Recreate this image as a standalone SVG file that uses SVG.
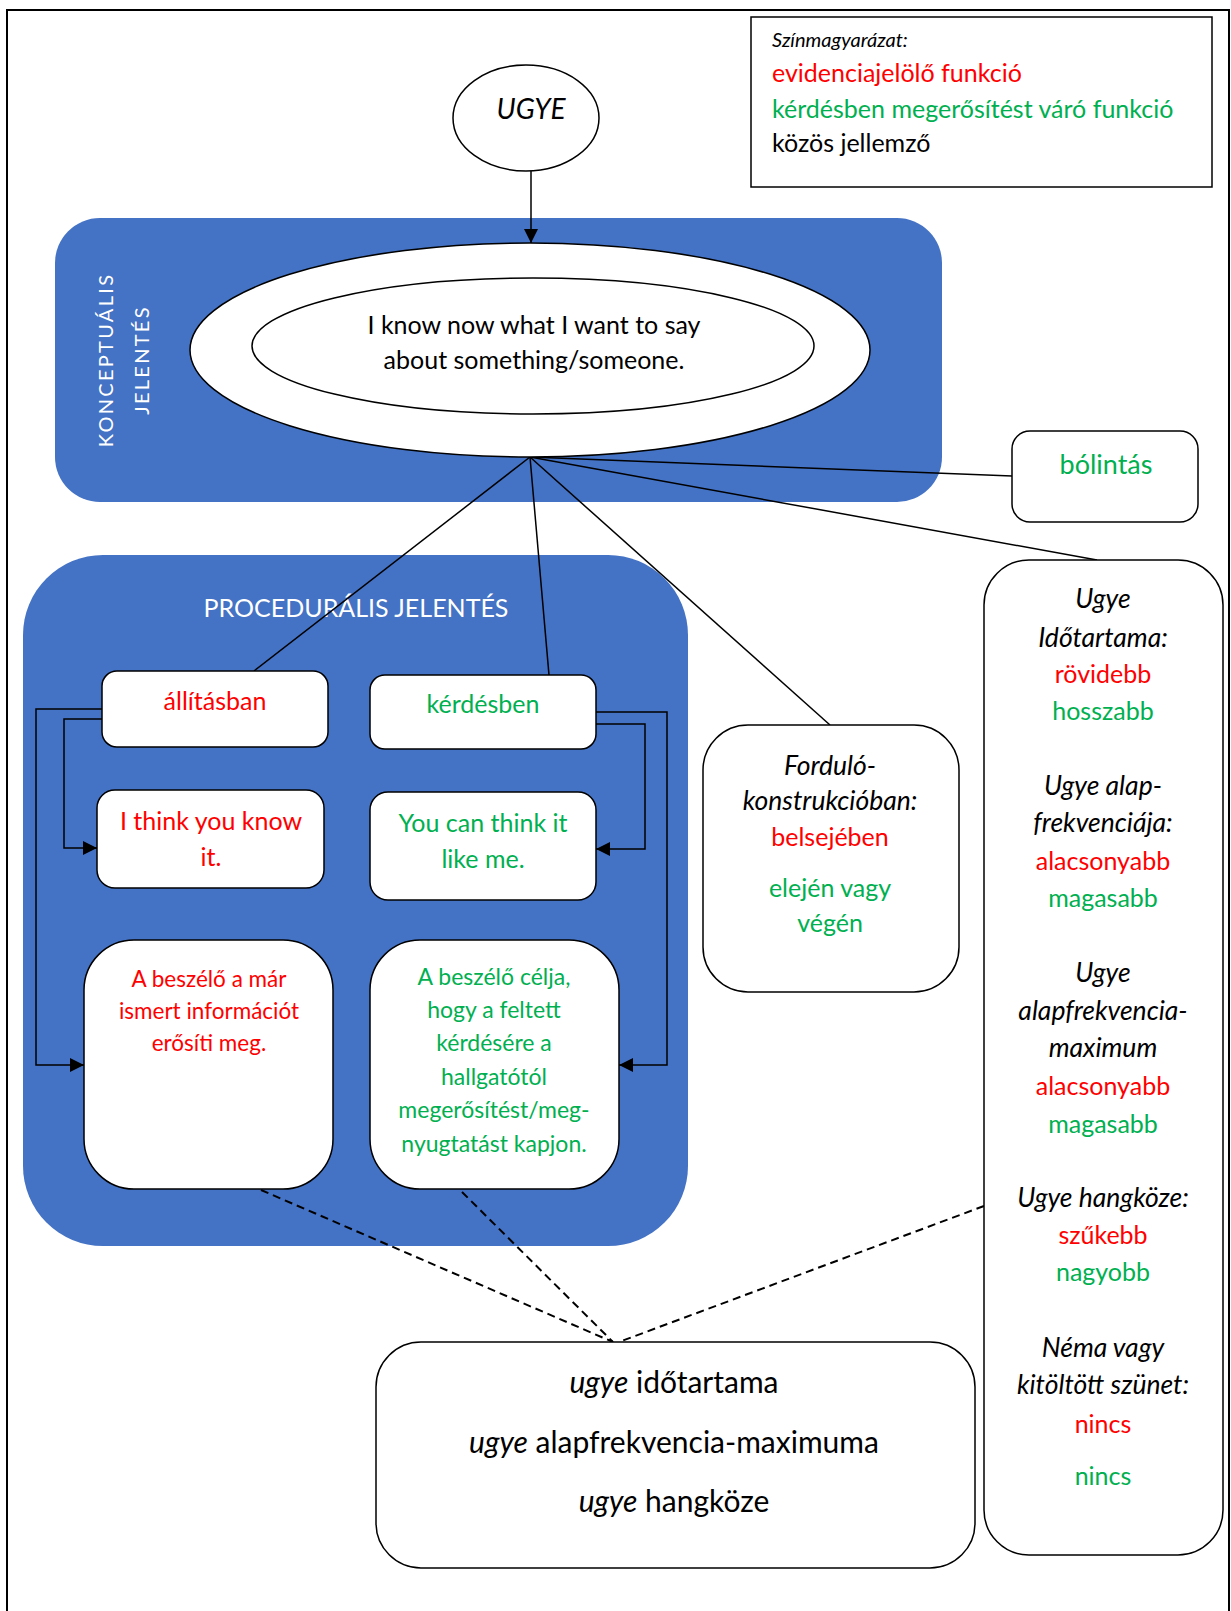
<svg xmlns="http://www.w3.org/2000/svg" width="1231" height="1611" viewBox="0 0 1231 1611">
<defs>
<marker id="arr" markerUnits="userSpaceOnUse" markerWidth="14" markerHeight="14" refX="14" refY="7" orient="auto"><path d="M0,0 L14,7 L0,14 z" fill="#000"/></marker>
<style>
text{font-family:Lato,"Liberation Sans",sans-serif;}
.box{fill:#fff;stroke:#000;stroke-width:1.5;}
.blue{fill:#4472C4;}
.c{text-anchor:middle;}
.r{fill:#FF0000;}
.g{fill:#00B050;}
.k{fill:#000;}
.i{font-style:italic;}
.w{fill:#fff;}
.ln{stroke:#000;stroke-width:1.5;fill:none;}
.dash{stroke:#000;stroke-width:2;fill:none;stroke-dasharray:8 5;}
.f1 text{font-size:25px;}
.f1 text.i{font-size:26.5px;}
</style>
</defs>
<rect x="7" y="10" width="1222" height="1610" fill="#fff" stroke="#000" stroke-width="2"/>

<g id="legend">
<rect x="751" y="17" width="461" height="170" fill="#fff" stroke="#000" stroke-width="1.5"/>
<text x="772" y="47" font-size="20" class="i k">Színmagyarázat:</text>
<text x="772" y="82" font-size="25" class="r">evidenciajelölő funkció</text>
<text x="772" y="118" font-size="25" class="g">kérdésben megerősítést váró funkció</text>
<text x="772" y="152" font-size="25" class="k">közös jellemző</text>
</g>

<g id="conceptual-bg">
<rect x="55" y="218" width="887" height="284" rx="45" class="blue"/>
<text transform="translate(113,360) rotate(-90)" font-size="20" letter-spacing="2.3" class="w c">KONCEPTUÁLIS</text>
<text transform="translate(149,360) rotate(-90)" font-size="20" letter-spacing="2.3" class="w c">JELENTÉS</text>
</g>

<g id="procedural-bg">
<rect x="23" y="555" width="665" height="691" rx="80" class="blue"/>
<text x="356" y="617" font-size="25" class="w c">PROCEDURÁLIS JELENTÉS</text>
</g>

<g id="connectors">
<line x1="531" y1="171" x2="531" y2="243" class="ln" marker-end="url(#arr)"/>
<line x1="530" y1="457" x2="1012" y2="476" class="ln"/>
<line x1="530" y1="457" x2="1097" y2="560" class="ln"/>
<line x1="530" y1="457" x2="830" y2="725" class="ln"/>
<line x1="530" y1="457" x2="549" y2="675" class="ln"/>
<line x1="530" y1="457" x2="254" y2="671" class="ln"/>
<polyline points="102,709 36,709 36,1065 84,1065" class="ln" marker-end="url(#arr)"/>
<polyline points="102,719 64,719 64,848 97,848" class="ln" marker-end="url(#arr)"/>
<polyline points="596,712 667,712 667,1065 619,1065" class="ln" marker-end="url(#arr)"/>
<polyline points="596,724 645,724 645,849 596,849" class="ln" marker-end="url(#arr)"/>
<line x1="261" y1="1190" x2="613" y2="1342" class="dash"/>
<line x1="462" y1="1192" x2="613" y2="1342" class="dash"/>
<line x1="984" y1="1206" x2="619" y2="1342" class="dash"/>
</g>

<g id="ugye">
<ellipse cx="526" cy="118" rx="73" ry="53" class="box"/>
<text x="531" y="119" font-size="28" class="i k c">UGYE</text>
</g>

<g id="concept-ellipse">
<ellipse cx="530" cy="350" rx="340" ry="107" class="box"/>
<ellipse cx="533" cy="346" rx="281" ry="68" class="box"/>
<text x="534" y="334" font-size="25" class="k c">I know now what I want to say</text>
<text x="534" y="369" font-size="25" class="k c">about something/someone.</text>
</g>

<g id="allitasban">
<rect x="102" y="671" width="226" height="76" rx="15" class="box"/>
<text x="215" y="710" font-size="25" class="r c">állításban</text>
</g>

<g id="kerdesben">
<rect x="370" y="675" width="226" height="74" rx="15" class="box"/>
<text x="483" y="713" font-size="25" class="g c">kérdésben</text>
</g>

<g id="i-think">
<rect x="97" y="790" width="227" height="98" rx="18" class="box"/>
<text x="211" y="830" font-size="25" class="r c">I think you know</text>
<text x="211" y="866" font-size="25" class="r c">it.</text>
</g>

<g id="you-can">
<rect x="370" y="792" width="226" height="108" rx="18" class="box"/>
<text x="483" y="832" font-size="25" class="g c">You can think it</text>
<text x="483" y="868" font-size="25" class="g c">like me.</text>
</g>

<g id="beszelo-allitas">
<rect x="84" y="940" width="249" height="249" rx="50" class="box"/>
<text x="209" y="987" font-size="22.5" class="r c">A beszélő a már</text>
<text x="209" y="1019" font-size="22.5" class="r c">ismert információt</text>
<text x="209" y="1051" font-size="22.5" class="r c">erősíti meg.</text>
</g>

<g id="beszelo-kerdes">
<rect x="370" y="940" width="249" height="249" rx="50" class="box"/>
<text x="494" y="985" font-size="23" class="g c">A beszélő célja,</text>
<text x="494" y="1018" font-size="23" class="g c">hogy a feltett</text>
<text x="494" y="1051" font-size="23" class="g c">kérdésére a</text>
<text x="494" y="1085" font-size="23" class="g c">hallgatótól</text>
<text x="494" y="1118" font-size="23" class="g c">megerősítést/meg-</text>
<text x="494" y="1152" font-size="23" class="g c">nyugtatást kapjon.</text>
</g>

<g id="fordulo" class="f1">
<rect x="703" y="725" width="256" height="267" rx="45" class="box"/>
<text x="830" y="775" class="i k c">Forduló-</text>
<text x="830" y="810" class="i k c">konstrukcióban:</text>
<text x="830" y="846" class="r c">belsejében</text>
<text x="830" y="897" class="g c">elején vagy</text>
<text x="830" y="932" class="g c">végén</text>
</g>

<g id="bolintas">
<rect x="1012" y="431" width="186" height="91" rx="18" class="box"/>
<text x="1106" y="474" font-size="27" class="g c">bólintás</text>
</g>

<g id="features" class="f1">
<rect x="984" y="560" width="239" height="995" rx="45" class="box"/>
<text x="1103" y="608" class="i k c">Ugye</text>
<text x="1103" y="647" class="i k c">Időtartama:</text>
<text x="1103" y="683" class="r c">rövidebb</text>
<text x="1103" y="720" class="g c">hosszabb</text>
<text x="1103" y="795" class="i k c">Ugye alap-</text>
<text x="1103" y="832" class="i k c">frekvenciája:</text>
<text x="1103" y="870" class="r c">alacsonyabb</text>
<text x="1103" y="907" class="g c">magasabb</text>
<text x="1103" y="982" class="i k c">Ugye</text>
<text x="1103" y="1020" class="i k c">alapfrekvencia-</text>
<text x="1103" y="1057" class="i k c">maximum</text>
<text x="1103" y="1095" class="r c">alacsonyabb</text>
<text x="1103" y="1133" class="g c">magasabb</text>
<text x="1103" y="1207" class="i k c">Ugye hangköze:</text>
<text x="1103" y="1244" class="r c">szűkebb</text>
<text x="1103" y="1281" class="g c">nagyobb</text>
<text x="1103" y="1357" class="i k c">Néma vagy</text>
<text x="1103" y="1394" class="i k c">kitöltött szünet:</text>
<text x="1103" y="1433" class="r c">nincs</text>
<text x="1103" y="1485" class="g c">nincs</text>
</g>

<g id="common">
<rect x="376" y="1342" width="599" height="226" rx="45" class="box"/>
<text x="674" y="1393" font-size="30" class="k c"><tspan class="i">ugye</tspan> időtartama</text>
<text x="674" y="1453" font-size="30" class="k c"><tspan class="i">ugye</tspan> alapfrekvencia-maximuma</text>
<text x="674" y="1512" font-size="30" class="k c"><tspan class="i">ugye</tspan> hangköze</text>
</g>
</svg>
